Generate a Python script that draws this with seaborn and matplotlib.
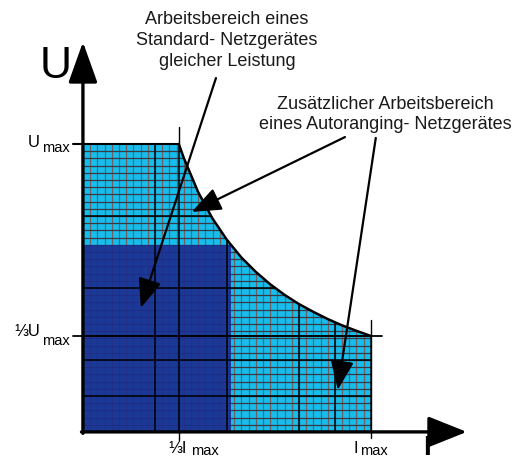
import numpy as np
import matplotlib
matplotlib.use("Agg")
import matplotlib.pyplot as plt
import seaborn as sns

# Leistungshyperbel U * I = const (Werte relativ zu Umax / Imax)
I_curve = [0.333, 0.35, 0.40, 0.45, 0.50, 0.55, 0.60, 0.65, 0.70, 0.75, 0.80, 0.85, 0.90, 0.95, 1.00]
U_curve = [1.000, 0.952, 0.833, 0.741, 0.667, 0.606, 0.556, 0.513, 0.476, 0.444, 0.417, 0.392, 0.370, 0.351, 0.333]

# Standard-Netzgeraet gleicher Leistung
I_std = 0.515
U_std = 0.65

# Achsenmarken
x_ticks = [1 / 3, 1.0]
x_labels = ["⅓I", "I"]
y_ticks = [1.0, 1 / 3]
y_labels = ["U", "⅓U"]

# Rasterlinien
major_I = [0.25, 1 / 3, 0.5, 0.75, 0.875, 1.0]
major_U = [0.125, 0.25, 1 / 3, 0.5, 0.75]
minor_step = 0.025

light_blue = "#14BEEF"
dark_blue = "#1B2B8E"

sns.set_theme(style="white")
plt.rcParams["font.family"] = ["Liberation Sans", "DejaVu Sans"]
plt.rcParams["text.color"] = "black"

fig = plt.figure(figsize=(5.31, 4.63), dpi=100)
ax = fig.add_axes([0, 0, 1, 1])
ax.set_xlim(-0.288, 1.556)
ax.set_ylim(-0.108, 1.5)
ax.set_axis_off()

# Arbeitsbereich Autoranging
xs = [0.0] + I_curve + [1.0, 0.0]
ys = [1.0] + U_curve + [0.0, 0.0]
poly = ax.fill(xs, ys, color=light_blue, lw=0, zorder=1)[0]

minor = np.arange(minor_step, 1.0, minor_step)
vl = ax.vlines(minor, 0, 1.0, colors="#6e6060", lw=0.9, zorder=2)
hl = ax.hlines(minor, 0, 1.0, colors="#3a3a44", lw=0.9, zorder=2)
vl.set_clip_path(poly)
hl.set_clip_path(poly)

# Standard-Bereich
ax.fill_between([0, I_std], 0, U_std, color=dark_blue, alpha=0.9, lw=0, zorder=3)

vm = ax.vlines(major_I, 0, 1.0, colors="black", lw=1.1, zorder=4)
hm = ax.hlines(major_U, 0, 1.0, colors="black", lw=1.1, zorder=4)
vm.set_clip_path(poly)
hm.set_clip_path(poly)

# Kurve und Begrenzungen
sns.lineplot(x=I_curve, y=U_curve, sort=False, color="black", lw=1.8, ax=ax, zorder=5)
ax.plot([-0.035, 1 / 3], [1.0, 1.0], color="black", lw=1.5, zorder=5)
ax.plot([1 / 3, 1 / 3], [1.0, 1.06], color="black", lw=1.0, zorder=5)
ax.plot([-0.035, 1.04], [1 / 3, 1 / 3], color="black", lw=1.3, zorder=5)
ax.plot([1.0, 1.0], [-0.02, 0.39], color="black", lw=1.0, zorder=5)
ax.plot([1 / 3, 1 / 3], [-0.028, 0], color="black", lw=1.0, zorder=5)

# Achsen mit Pfeilen
ax.annotate("", xy=(0, 1.354), xytext=(0, -0.005),
            arrowprops=dict(arrowstyle="-|>,head_length=2.1,head_width=0.75",
                            color="black", lw=2.4, shrinkA=0, shrinkB=0), zorder=6)
ax.annotate("", xy=(1.333, 0), xytext=(-0.005, 0),
            arrowprops=dict(arrowstyle="-|>,head_length=2.0,head_width=0.8",
                            color="black", lw=2.4, shrinkA=0, shrinkB=0), zorder=6)
ax.text(-0.094, 1.229, "U", fontsize=32, ha="center", va="baseline")
ax.text(1.194, -0.101, "I", fontsize=20, ha="center", va="bottom", fontweight="bold")

# Achsenbeschriftungen
for y, lab, yb, ys_ in zip(y_ticks, y_labels, [0.990, 0.333], [0.972, 0.302]):
    ax.text(-0.150, yb, lab, fontsize=12, ha="right", va="baseline")
    ax.text(-0.143, ys_, "max", fontsize=10.5, ha="left", va="baseline")
for x, lab, xr, xl in zip(x_ticks, x_labels, [0.361, 0.955], [0.376, 0.962]):
    ax.text(xr, -0.073, lab, fontsize=12, ha="right", va="baseline")
    ax.text(xl, -0.080, "max", fontsize=10.5, ha="left", va="baseline")

# Hinweise
ax.text(0.5, 1.462, "Arbeitsbereich eines\nStandard- Netzgerätes\ngleicher Leistung",
        fontsize=13, ha="center", va="top", linespacing=1.3, color="#1a1a1a")
ax.text(1.049, 1.168, "Zusätzlicher Arbeitsbereich\neines Autoranging- Netzgerätes",
        fontsize=13, ha="center", va="top", linespacing=1.3, color="#1a1a1a")

arrow_kw = dict(arrowstyle="-|>,head_length=1.5,head_width=0.6",
                color="black", lw=1.6, shrinkA=0, shrinkB=0)
ax.annotate("", xy=(0.201, 0.431), xytext=(0.462, 1.229), arrowprops=arrow_kw, zorder=7)
ax.annotate("", xy=(0.378, 0.764), xytext=(0.910, 1.024), arrowprops=arrow_kw, zorder=7)
ax.annotate("", xy=(0.885, 0.146), xytext=(1.017, 1.021), arrowprops=arrow_kw, zorder=7)

fig.savefig("out.png", dpi=100, facecolor="white")
